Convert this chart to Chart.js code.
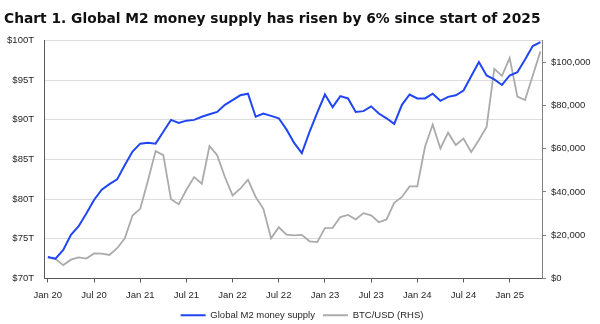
<!DOCTYPE html>
<html>
<head>
<meta charset="utf-8">
<script src="https://cdn.jsdelivr.net/npm/chart.js@4.4.1/dist/chart.umd.min.js"></script>
<style>
  body { margin: 0; background: #fff; }
</style>
</head>
<body>
<canvas id="grafico" width="600" height="324"></canvas>
<script>
// etiquetas cada 6 meses (el eje x va por indice de mes desde ene 2020)
const etiquetasX = ['Jan 20', 'Jul 20', 'Jan 21', 'Jul 21', 'Jan 22', 'Jul 22', 'Jan 23', 'Jul 23', 'Jan 24', 'Jul 24', 'Jan 25'];
const ticksBtc = [0, 20000, 40000, 60000, 80000, 100000];

// M2 global, billones USD (fin de mes, ene 2020 - may 2025)
const m2Global = [
  72.7, 72.5, 73.6, 75.5, 76.6, 78.2, 79.9, 81.2, 81.9, 82.5, 84.3, 86.0,
  87.0, 87.1, 87.0, 88.5, 90.0, 89.6, 89.9, 90.0, 90.4, 90.7, 91.0, 91.9,
  92.5, 93.1, 93.3, 90.4, 90.8, 90.5, 90.2, 88.8, 87.1, 85.8, 88.5, 90.9,
  93.2, 91.6, 93.0, 92.7, 91.0, 91.1, 91.7, 90.8, 90.2, 89.5, 91.9, 93.2,
  92.7, 92.7, 93.3, 92.4, 92.9, 93.1, 93.7, 95.5, 97.3, 95.6, 95.1, 94.4,
  95.6, 96.0, 97.6, 99.3, 99.8
];

// BTC/USD (eje derecho)
const btcUsd = [
  9800, 9000, 6200, 8700, 9800, 9200, 11600, 11500, 10900, 14000, 18600, 29100,
  32200, 45200, 58900, 57000, 36600, 34300, 41000, 46900, 43800, 61200, 57000, 46900,
  38400, 41500, 45700, 37700, 32200, 18600, 23700, 20300, 19900, 20200, 17200, 16800,
  23300, 23400, 28400, 29400, 27300, 30200, 29200, 26000, 27300, 35000, 37700, 42600,
  42600, 60900, 71200, 60100, 67400, 61700, 64700, 58500, 64000, 70100, 96900, 93700,
  101900, 84100, 82500, 93800, 105000
];

const fuenteEjes = { family: 'Liberation Sans', size: 9.5 };
const colorTexto = '#262626';

const graficoCanvas = document.getElementById('grafico');

const chart = new Chart(graficoCanvas, {
  type: 'line',
  data: {
    datasets: [{
      label: 'Global M2 money supply',
      data: m2Global.map((v, i) => ({ x: i, y: v })),
      borderColor: '#2046f2',
      backgroundColor: '#2046f2',
      borderWidth: 2,
      pointRadius: 0,
      yAxisID: 'y'
    }, {
      label: 'BTC/USD (RHS)',
      data: btcUsd.map((v, i) => ({ x: i, y: v })),
      borderColor: '#ababab',
      backgroundColor: '#ababab',
      borderWidth: 1.8,
      pointRadius: 0,
      yAxisID: 'y2'
    }]
  },
  options: {
    responsive: false,
    animation: false,
    layout: { padding: { left: 4, right: 0, top: 0, bottom: -6 } },
    plugins: {
      title: {
        display: true,
        text: 'Chart 1. Global M2 money supply has risen by 6% since start of 2025',
        align: 'start',
        color: '#111',
        font: { family: 'DejaVu Sans', size: 13.8, weight: 'bold' },
        padding: { top: 11, bottom: 13 }
      },
      legend: {
        position: 'bottom',
        labels: {
          usePointStyle: true,
          pointStyle: 'line',
          pointStyleWidth: 25,
          color: colorTexto,
          font: fuenteEjes,
          padding: 8
        }
      },
      tooltip: { enabled: false }
    },
    scales: {
      x: {
        type: 'linear',
        min: -0.5,
        max: 64.2,
        afterBuildTicks: s => { s.ticks = etiquetasX.map((t, i) => ({ value: i * 6 })); },
        afterFit: s => { s.height = 24; },
        ticks: {
          callback: v => etiquetasX[v / 6],
          autoSkip: false,
          maxRotation: 0,
          color: colorTexto,
          font: fuenteEjes,
          padding: 7
        },
        grid: { drawOnChartArea: false, tickLength: 4, color: '#595959' },
        border: { color: '#595959' }
      },
      y: {
        position: 'left',
        min: 70,
        max: 100,
        afterFit: s => { s.width = 40; },
        ticks: {
          stepSize: 5,
          callback: v => '$' + v + 'T',
          color: colorTexto,
          font: fuenteEjes,
          padding: 10
        },
        grid: { color: '#dcdcdc', drawTicks: false },
        border: { color: '#595959' }
      },
      y2: {
        position: 'right',
        min: 0,
        max: 110000,
        afterBuildTicks: s => { s.ticks = ticksBtc.map(v => ({ value: v })); },
        afterFit: s => { s.width = 58; },
        ticks: {
          callback: v => '$' + v.toLocaleString('en-US'),
          color: colorTexto,
          font: fuenteEjes,
          padding: 5
        },
        grid: { drawOnChartArea: false, tickLength: 4, color: '#808080' },
        border: { color: '#808080' }
      }
    }
  }
});
</script>
</body>
</html>
